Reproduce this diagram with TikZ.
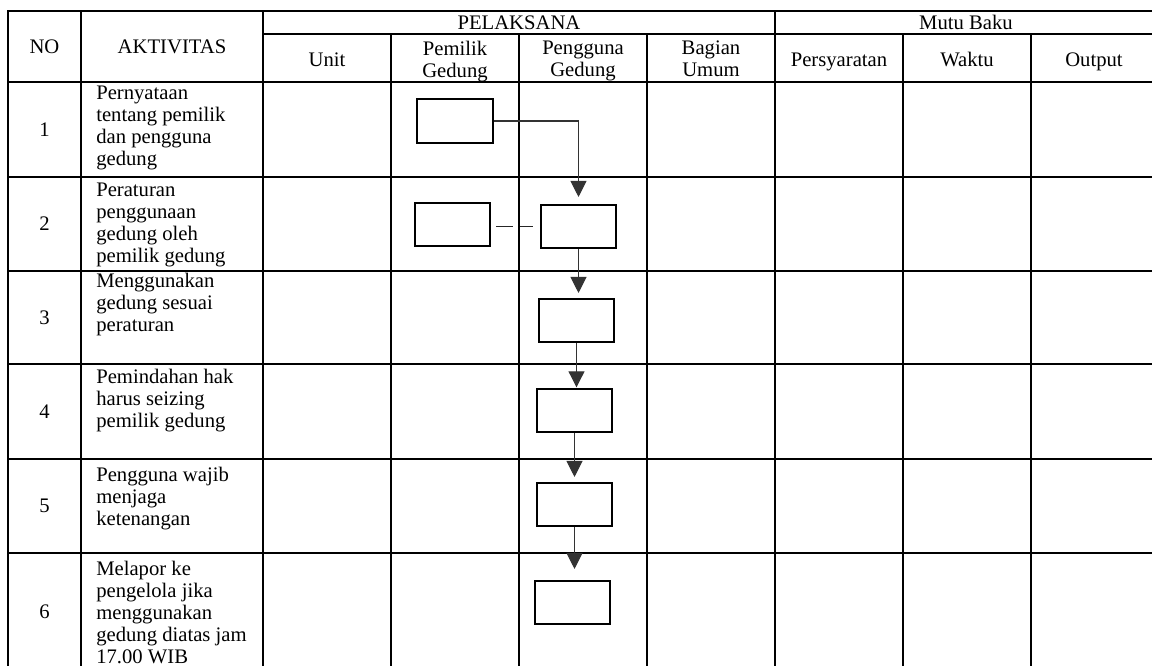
\documentclass[tikz,border=0pt]{standalone}
\usepackage{fontspec}
\setmainfont{Liberation Serif}
\usetikzlibrary{arrows.meta}
\newcommand{\cellfont}{\fontsize{15.5}{16.5}\selectfont}
\newcommand{\rowline}[1]{ \draw[tablerule] ( 8 , #1 ) -- ( 1157 , #1 );}
\newcommand{\colline}[2]{ \draw[tablerule] ( #1 , #2 ) -- ( #1 , 671 );}
\newcommand{\activity}[4]{ \node[numtext] (no#1) at ( 44.5 , #2 ) {#1}; \node[celltext] (act#1) at ( 96 , #3 - 15.4 ) {#4};}
\tikzset{
  tablerule/.style={line width=1.6pt, line cap=rect},
  headtext/.style={anchor=north, inner sep=0pt, align=center, font=\cellfont, execute at begin node=\strut},
  celltext/.style={anchor=north west, inner sep=0pt, align=left, font=\cellfont, execute at begin node=\strut},
  numtext/.style={inner sep=0pt, font=\cellfont},
  flowbox/.style={draw, line width=1.4pt, minimum width=56.4pt, minimum height=32.4pt, inner sep=0pt},
  flowline/.style={draw=black!80, line width=0.8pt, -{Triangle[length=12pt,width=12pt]}},
  linkline/.style={draw=black!85, line width=1.2pt, dash pattern=on 12.75pt off 5.25pt}
}
\begin{document}
\begin{tikzpicture}[x=0.75pt, y=-0.75pt]
    \useasboundingbox ( 0 , 0 ) rectangle ( 1152 , 666 );
    \clip ( 0 , 0 ) rectangle ( 1152 , 666 );
    %
    \rowline{11}
    \draw[tablerule] ( 263 , 34 ) -- ( 1157 , 34 );
    \rowline{82}
    \rowline{177}
    \rowline{271}
    \rowline{364}
    \rowline{459}
    \rowline{553}
    \rowline{671}

    \colline{8}{11}
    \colline{81}{11}
    \colline{263}{11}
    \colline{391}{34}
    \colline{519}{34}
    \colline{647}{34}
    \colline{775}{11}
    \colline{903}{34}
    \colline{1031}{34}
    \colline{1157}{11}
    %
    \node[headtext] (hno) at ( 44.5 , 53 - 15.4 ) {NO};
    \node[headtext] (hakt) at ( 172 , 53 - 15.4 ) {AKTIVITAS};
    \node[headtext] (hpel) at ( 519 , 29 - 15.4 ) {PELAKSANA};
    \node[headtext] (hmutu) at ( 966 , 29 - 15.4 ) {Mutu Baku};

    \node[headtext] (hunit) at ( 327 , 66 - 15.4 ) {Unit};
    \node[headtext] (hpemilik) at ( 455 , 56 - 15.4 ) {Pemilik\\Gedung};
    \node[headtext] (hpengguna) at ( 583 , 56 - 15.4 ) {Pengguna\\Gedung};
    \node[headtext] (hbagian) at ( 711 , 56 - 15.4 ) {Bagian\\Umum};
    \node[headtext] (hsyarat) at ( 839 , 66 - 15.4 ) {Persyaratan};
    \node[headtext] (hwaktu) at ( 967 , 66 - 15.4 ) {Waktu};
    \node[headtext] (houtput) at ( 1094 , 66 - 15.4 ) {Output};
    %
    \activity{1}{129.5}{101}{Pernyataan\\tentang pemilik\\dan pengguna\\gedung}
    \activity{2}{223.5}{198}{Peraturan\\penggunaan\\gedung oleh\\pemilik gedung}
    \activity{3}{318}{288}{Menggunakan\\gedung sesuai\\peraturan}
    \activity{4}{412}{384}{Pemindahan hak\\harus seizing\\pemilik gedung}
    \activity{5}{506}{482}{Pengguna wajib\\menjaga\\ketenangan}
    \activity{6}{612}{576}{Melapor ke\\pengelola jika\\menggunakan\\gedung diatas jam\\17.00 WIB}
    %
    \node[flowbox] (pemilik1) at ( 455 , 121 ) {};
    \node[flowbox] (pemilik2) at ( 452.5 , 224.5 ) {};
    \node[flowbox] (pengguna2) at ( 578.5 , 226.5 ) {};
    \node[flowbox] (pengguna3) at ( 576.5 , 320.5 ) {};
    \node[flowbox] (pengguna4) at ( 574.5 , 410.5 ) {};
    \node[flowbox] (pengguna5) at ( 574.5 , 504.5 ) {};
    \node[flowbox] (pengguna6) at ( 572.5 , 602.5 ) {};

    \draw[flowline, shorten >=5.25pt] (pemilik1.east) -| (pengguna2.north);
    \draw[linkline, shorten <=3.75pt, shorten >=5.25pt] (pengguna2.west -| pemilik2.east) -- (pengguna2.west);
    \draw[flowline, shorten >=3.75pt] (pengguna2.south) -- (pengguna2.south |- pengguna3.north);
    \draw[flowline, shorten >=0.5pt] (pengguna3.south) -- (pengguna3.south |- pengguna4.north);
    \draw[flowline, shorten >=3.75pt] (pengguna4.south) -- (pengguna4.south |- pengguna5.north);
    \draw[flowline, shorten >=8.25pt] (pengguna5.south) -- (pengguna5.south |- pengguna6.north);
\end{tikzpicture}
\end{document}
